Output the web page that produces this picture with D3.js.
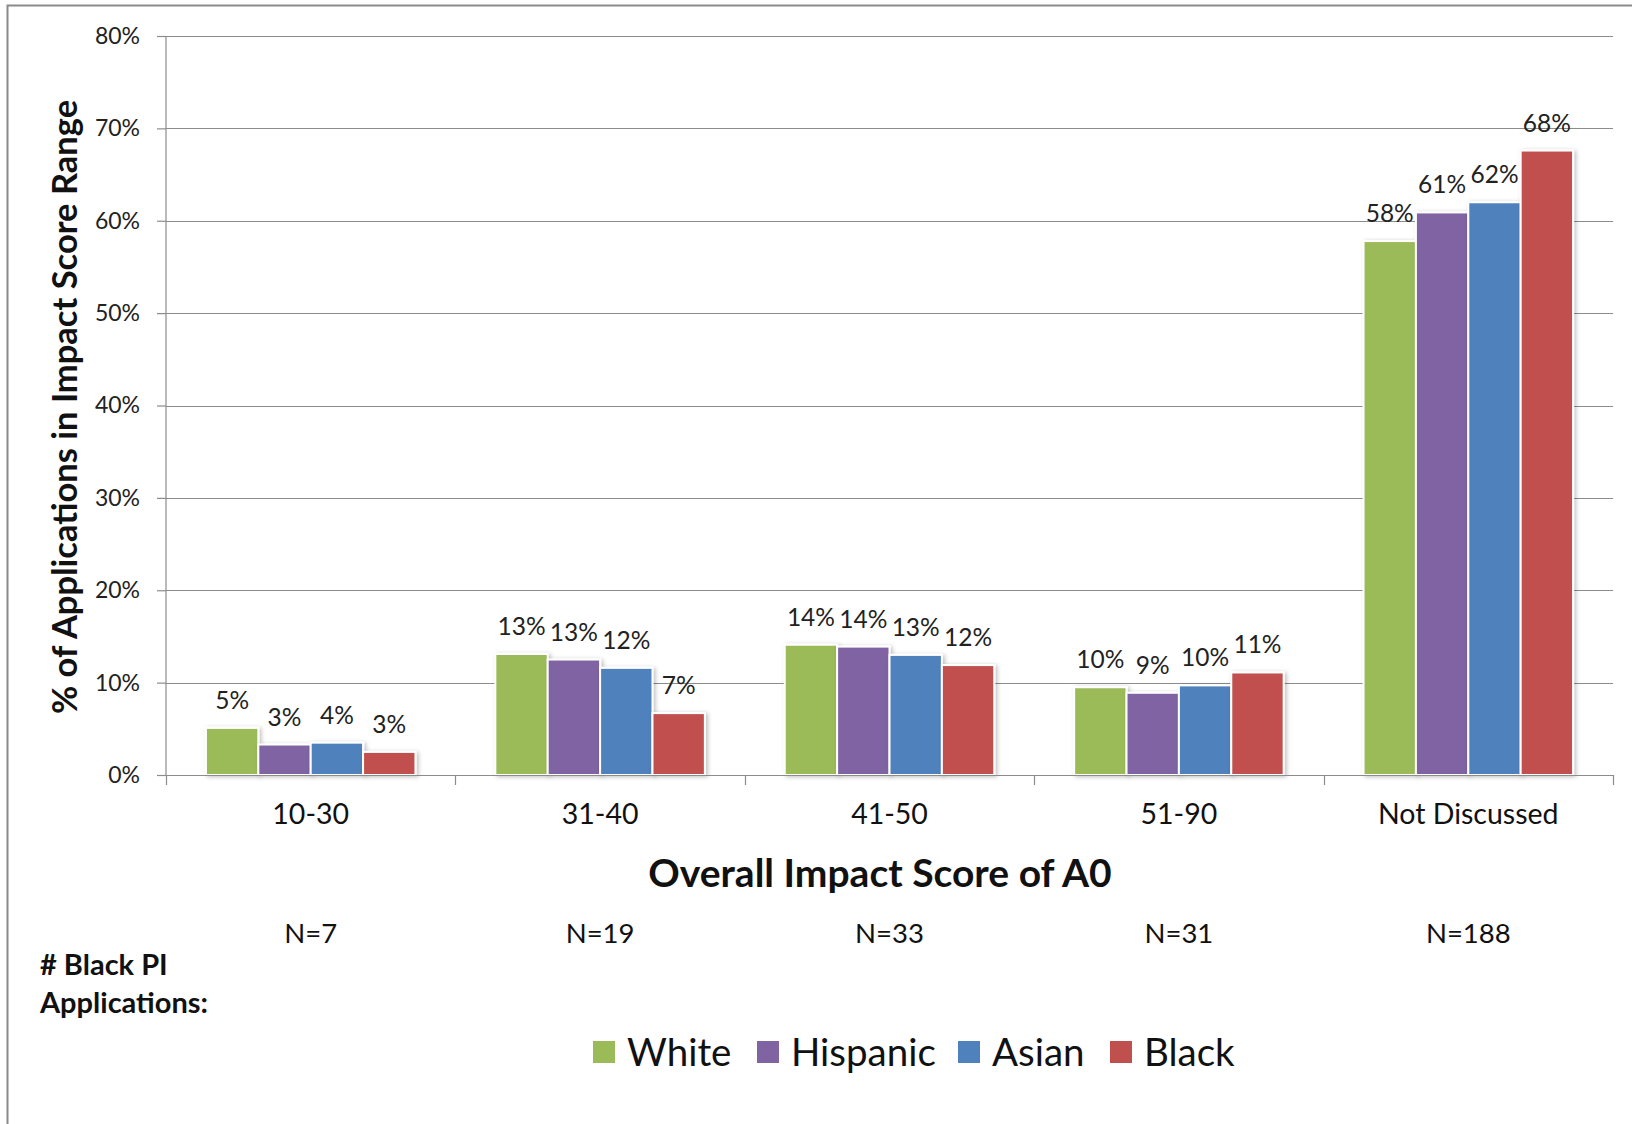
<!DOCTYPE html>
<html><head><meta charset="utf-8">
<script src="https://cdn.jsdelivr.net/npm/d3@7"></script>
<style>
html,body{margin:0;padding:0;background:#fff;}
svg{display:block;font-family:Lato,"Open Sans",sans-serif;}
</style></head>
<body>
<svg id="chart" width="1632" height="1124"></svg>
<script>
const categories = ["10-30", "31-40", "41-50", "51-90", "Not Discussed"];
const series = ["White", "Hispanic", "Asian", "Black"];
const colors = ["#9BBB59", "#8064A2", "#4F81BD", "#C0504D"];
const white = [5.1, 13.1, 14.1, 9.5, 57.8];
const hispanic = [3.3, 12.5, 13.9, 8.9, 60.9];
const asian = [3.5, 11.6, 13.0, 9.7, 62.0];
const black = [2.5, 6.7, 11.9, 11.1, 67.6];
const nLabels = ["N=7", "N=19", "N=33", "N=31", "N=188"];
const yTicks = [0, 10, 20, 30, 40, 50, 60, 70, 80];

const values = [white, hispanic, asian, black];
const data = categories.map((c, i) => ({cat: c, vals: series.map((s, j) => ({s, j, v: values[j][i]}))}));

const svg = d3.select("#chart");
const m = {left: 166, right: 1613, top: 36, bottom: 775};

// drop shadow
const defs = svg.append("defs");
const f = defs.append("filter").attr("id", "sh").attr("x", "-20%").attr("y", "-20%").attr("width", "150%").attr("height", "150%");
f.append("feDropShadow").attr("dx", 2).attr("dy", 1).attr("stdDeviation", 2).attr("flood-color", "#000").attr("flood-opacity", 0.25);

// outer border
svg.append("rect").attr("x", 7.5).attr("y", 5.5).attr("width", 1700).attr("height", 1200)
  .attr("fill", "none").attr("stroke", "#8a8a8a").attr("stroke-width", 2);

const x = d3.scaleBand().domain(categories).range([m.left, m.right]).padding(0);
const bw = x.bandwidth();
const xs = d3.scaleBand().domain(series).range([bw * 0.138, bw * 0.862]).padding(0);
const y = d3.scaleLinear().domain([0, 80]).range([m.bottom, m.top]);

// gridlines
svg.append("g").selectAll("line").data(yTicks.filter(t => t > 0)).join("line")
  .attr("x1", m.left).attr("x2", m.right)
  .attr("y1", d => Math.round(y(d)) + 0.5).attr("y2", d => Math.round(y(d)) + 0.5)
  .attr("stroke", "#8c8c8c").attr("stroke-width", 1.2);

// y axis
const ya = svg.append("g").attr("transform", `translate(${m.left},0)`)
  .call(d3.axisLeft(y).tickValues(yTicks).tickFormat(d => d + "%").tickSize(9).tickPadding(17));
ya.selectAll("line").attr("stroke", "#8c8c8c").attr("stroke-width", 1.2);
ya.select(".domain").attr("stroke", "#8c8c8c").attr("stroke-width", 1.2).attr("d", `M0,${m.top}V${m.bottom}`);
ya.selectAll("text").attr("font-size", 23).attr("fill", "#222").attr("font-family", "Lato");

// bars
const g = svg.append("g").selectAll("g").data(data).join("g")
  .attr("transform", d => `translate(${x(d.cat)},0)`);
g.selectAll("rect").data(d => d.vals).join("rect")
  .attr("x", d => xs(d.s)).attr("width", xs.bandwidth())
  .attr("y", d => y(d.v)).attr("height", d => y(0) - y(d.v))
  .attr("fill", d => colors[d.j]).attr("stroke", "#fff").attr("stroke-width", 2)
  .attr("filter", "url(#sh)");
g.selectAll("text").data(d => d.vals).join("text")
  .attr("x", d => xs(d.s) + xs.bandwidth() / 2).attr("y", d => y(d.v) - 19)
  .attr("text-anchor", "middle").attr("font-size", 24.5).attr("fill", "#222")
  .text(d => Math.round(d.v) + "%");

// x axis
const xa = svg.append("g").attr("transform", `translate(0,${m.bottom})`)
  .call(d3.axisBottom(x).tickSize(0).tickPadding(29));
xa.select(".domain").attr("stroke", "#8c8c8c").attr("stroke-width", 1.2);
xa.selectAll("text").attr("font-size", 28.5).attr("fill", "#111").attr("font-family", "Lato");
svg.append("g").selectAll("line").data(categories.map(c => x(c)).concat([m.right])).join("line")
  .attr("x1", d => Math.round(d) + 0.5).attr("x2", d => Math.round(d) + 0.5)
  .attr("y1", m.bottom).attr("y2", m.bottom + 10)
  .attr("stroke", "#8c8c8c").attr("stroke-width", 1.2);

// axis titles
svg.append("text").attr("x", 880).attr("y", 887).attr("text-anchor", "middle")
  .attr("font-size", 39).attr("font-weight", "bold").attr("fill", "#111")
  .text("Overall Impact Score of A0");
svg.append("text").attr("transform", "translate(77,407) rotate(-90)").attr("text-anchor", "middle")
  .attr("font-size", 34.5).attr("font-weight", "bold").attr("fill", "#111")
  .text("% of Applications in Impact Score Range");

// N labels
svg.append("g").selectAll("text").data(categories).join("text")
  .attr("x", d => x(d) + bw / 2).attr("y", 943).attr("text-anchor", "middle")
  .attr("font-size", 27.5).attr("fill", "#111").text((d, i) => nLabels[i]);
svg.append("text").attr("x", 40).attr("y", 975).attr("font-size", 29).attr("font-weight", "bold").attr("fill", "#111").text("# Black PI");
svg.append("text").attr("x", 40).attr("y", 1013).attr("font-size", 29).attr("font-weight", "bold").attr("fill", "#111").text("Applications:");

// legend
const legendX = [593, 757, 958, 1110];
const lg = svg.append("g").selectAll("g").data(series).join("g")
  .attr("transform", (d, i) => `translate(${legendX[i]},1052)`);
lg.append("rect").attr("x", 0).attr("y", -11).attr("width", 22).attr("height", 22)
  .attr("fill", (d, i) => colors[i]);
lg.append("text").attr("x", 34).attr("y", 14).attr("font-size", 38.5).attr("fill", "#111").text(d => d);
</script>
</body></html>
